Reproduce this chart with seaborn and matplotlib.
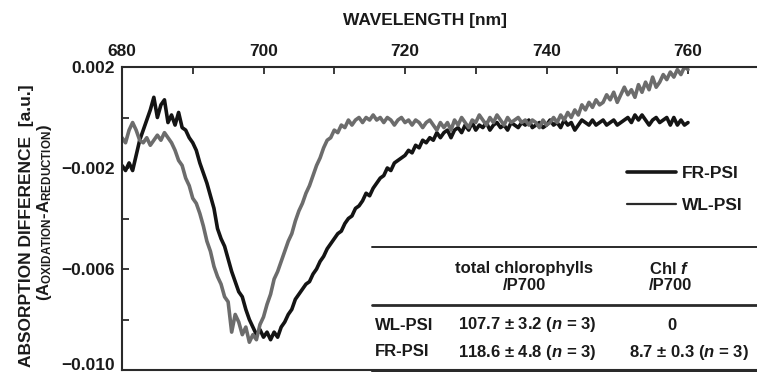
import numpy as np
import pandas as pd
import matplotlib
matplotlib.use("Agg")
import matplotlib.pyplot as plt
from matplotlib.lines import Line2D
from matplotlib.transforms import ScaledTranslation
import seaborn as sns

# ---------------- data (values in units of 1e-3) ----------------
wl_start, wl_stop, wl_step = 680.0, 760.0, 0.5

fr_psi = [
    -1.9, -2.1, -1.8, -2.1, -1.5, -0.9, -0.5, -0.1, 0.3, 0.8,
    0.0, 0.5, 0.7, -0.2, 0.1, -0.3, 0.2, -0.4, -0.5, -0.8,
    -1.0, -1.3, -1.8, -2.2, -2.6, -3.1, -3.6, -4.4, -4.8, -5.1,
    -5.6, -6.1, -6.5, -6.9, -7.1, -7.6, -8.0, -8.3, -8.6, -8.4,
    -8.7, -8.5, -8.8, -8.5, -8.7, -8.3, -8.1, -7.8, -7.6, -7.2,
    -7.0, -6.8, -6.6, -6.5, -6.2, -6.0, -5.7, -5.5, -5.2, -5.0,
    -4.8, -4.6, -4.5, -4.2, -4.0, -3.9, -3.6, -3.5, -3.3, -3.0,
    -3.1, -2.8, -2.6, -2.4, -2.3, -2.0, -2.1, -1.8, -1.7, -1.6,
    -1.5, -1.3, -1.4, -1.1, -1.2, -0.9, -1.0, -0.8, -0.9, -0.6,
    -0.8, -0.6, -0.5, -0.8, -0.5, -0.4, -0.6, -0.3, -0.5, -0.2,
    -0.5, -0.3, -0.4, -0.2, -0.5, -0.3, -0.2, -0.4, -0.3, -0.5,
    -0.2, -0.3, -0.4, -0.2, -0.3, -0.1, -0.4, -0.3, -0.2, -0.4,
    -0.3, -0.1, -0.3, -0.2, -0.4, -0.1, -0.3, -0.2, -0.5, -0.3,
    -0.1, -0.2, -0.3, -0.1, -0.3, -0.2, -0.1, -0.3, -0.2, -0.1,
    -0.3, -0.2, -0.1, 0.0, -0.2, 0.1, -0.1, 0.1, -0.1, -0.3,
    -0.1, 0.0, -0.2, -0.1, 0.0, -0.3, 0.0, -0.3, -0.1, -0.3,
    -0.2,
]

wl_psi = [
    -0.8, -1.0, -0.5, -0.2, -0.5, -0.9, -1.0, -0.8, -1.1, -0.9,
    -0.7, -0.9, -0.6, -0.8, -1.0, -1.3, -1.7, -1.9, -2.4, -2.7,
    -3.2, -3.4, -3.8, -4.3, -4.9, -5.3, -5.9, -6.3, -6.6, -7.1,
    -7.3, -8.5, -7.8, -8.1, -8.6, -8.3, -8.9, -8.6, -8.8, -8.2,
    -7.9, -7.4, -7.0, -6.4, -6.1, -5.7, -5.3, -4.9, -4.6, -4.1,
    -3.7, -3.4, -3.0, -2.7, -2.3, -1.9, -1.6, -1.2, -0.9, -0.8,
    -0.5, -0.6, -0.3, -0.4, -0.1, -0.3, -0.1, 0.0, -0.2, 0.0,
    -0.1, 0.1, -0.1, 0.0, -0.2, 0.0, -0.1, -0.3, -0.1, 0.0,
    -0.2, -0.1, -0.3, -0.1, -0.2, -0.4, -0.2, -0.1, -0.3, -0.5,
    -0.2, -0.4, -0.2, -0.5, -0.1, -0.3, 0.0, -0.2, -0.4, -0.1,
    -0.2, 0.1, -0.1, -0.3, 0.0, -0.2, 0.1, -0.1, -0.3, 0.0,
    -0.2, -0.1, 0.0, -0.2, -0.1, -0.3, -0.1, -0.2, -0.4, -0.1,
    -0.3, -0.2, 0.0, -0.2, 0.1, -0.1, 0.2, 0.0, 0.3, 0.1,
    0.5, 0.3, 0.6, 0.4, 0.7, 0.5, 0.6, 0.9, 0.7, 1.0,
    0.6, 0.9, 1.2, 0.9, 1.1, 0.8, 1.3, 1.0, 1.4, 1.1,
    1.6, 1.2, 1.4, 1.7, 1.5, 1.8, 1.6, 1.9, 1.7, 2.0,
    1.9,
]

series_names = ["FR-PSI", "WL-PSI"]
x_major = [680, 700, 720, 740, 760]
x_minor = [690, 710, 730, 750]
y_major = [0.002, -0.002, -0.006, -0.010]
y_major_labels = ["0.002", "\u22120.002", "\u22120.006", "\u22120.010"]
y_minor = [0.0, -0.004, -0.008]

table_header = ["total chlorophylls\n/P700", "Chl $\\mathit{f}$\n/P700"]
table_rows = ["WL-PSI", "FR-PSI"]
table_total = ["107.7 \u00b1 3.2 ($\\mathit{n}$ = $\\mathit{3}$)",
               "118.6 \u00b1 4.8 ($\\mathit{n}$ = $\\mathit{3}$)"]
table_chlf = ["0", "8.7 \u00b1 0.3 ($\\mathit{n}$ = $\\mathit{3}$)"]

wavelength = np.arange(wl_start, wl_stop + wl_step / 2, wl_step)
df = pd.DataFrame({
    "wavelength": np.concatenate([wavelength, wavelength]),
    "absorbance": np.concatenate([np.array(fr_psi), np.array(wl_psi)]) * 1e-3,
    "sample": [series_names[0]] * len(fr_psi) + [series_names[1]] * len(wl_psi),
})

# ---------------- style ----------------
sns.set_style("ticks")
plt.rcParams["font.family"] = ["Liberation Sans", "DejaVu Sans"]
plt.rcParams["font.weight"] = "bold"
plt.rcParams["mathtext.fontset"] = "custom"
plt.rcParams["mathtext.rm"] = "Liberation Sans:bold"
plt.rcParams["mathtext.it"] = "Liberation Sans:italic:bold"
plt.rcParams["mathtext.bf"] = "Liberation Sans:bold"
plt.rcParams["axes.unicode_minus"] = True

W, H = 757, 372
fig = plt.figure(figsize=(W / 100, H / 100), dpi=100)
ax = fig.add_axes([122 / W, 2 / H, (W - 122) / W, (370 - 67) / H])

colors = {"FR-PSI": "#141414", "WL-PSI": "#6c6c6c"}
for name in series_names:
    sub = df[df["sample"] == name]
    sns.lineplot(data=sub, x="wavelength", y="absorbance", ax=ax,
                 color=colors[name], linewidth=2.6, estimator=None,
                 sort=False, legend=False)

ax.set_xlim(680, 680 + (W - 122) / 7.075)
ax.set_ylim(-0.010, 0.002)
ax.set_xlabel("")
ax.set_ylabel("")

spine_c = "#2a2a2a"
for s in ["top", "left", "bottom"]:
    ax.spines[s].set_visible(True)
    ax.spines[s].set_linewidth(1.5)
    ax.spines[s].set_color(spine_c)
ax.spines["right"].set_visible(False)

ax.xaxis.tick_top()
ax.set_xticks(x_major)
ax.set_xticks(x_minor, minor=True)
ax.set_xticklabels([str(v) for v in x_major])
ax.set_yticks(y_major)
ax.set_yticks(y_minor, minor=True)
ax.set_yticklabels(y_major_labels)
ax.tick_params(axis="both", which="both", direction="in", length=5,
               width=1.3, color=spine_c, labelsize=12.5)
ax.tick_params(axis="x", which="both", top=True, bottom=False,
               labeltop=True, labelbottom=False, pad=6)
ax.tick_params(axis="y", which="both", left=True, right=False, pad=5)
for lab in ax.get_xticklabels() + ax.get_yticklabels():
    lab.set_fontweight("bold")
    lab.set_color("#1a1a1a")
last = ax.get_yticklabels()[-1]
last.set_transform(last.get_transform()
                   + ScaledTranslation(0, 6.5 / 100, fig.dpi_scale_trans))

# title / axis labels
fig.text(425 / W, 1 - 20 / H, "WAVELENGTH [nm]", ha="center", va="center",
         fontsize=12.5, fontweight="bold", color="#1a1a1a")
fig.text(27 / W, 1 - 226 / H, "ABSORPTION DIFFERENCE  [a.u.]", rotation=90,
         ha="center", va="center", fontsize=12.5, fontweight="bold", color="#1a1a1a")
fig.text(45 / W, 1 - 213 / H,
         r"(A$_{\mathrm{OXIDATION}}$-A$_{\mathrm{REDUCTION}}$)", rotation=90,
         ha="center", va="center", fontsize=12, color="#1a1a1a")

# legend
handles = [Line2D([], [], color="#161616", linewidth=2.6),
           Line2D([], [], color="#2a2a2a", linewidth=1.6)]
leg = fig.legend(handles, series_names, loc="upper left",
                 bbox_to_anchor=(627 / W, 1 - 166 / H), frameon=False,
                 fontsize=12.5, handlelength=2.8, handletextpad=0.35,
                 labelspacing=0.95, borderpad=0, borderaxespad=0)
for t in leg.get_texts():
    t.set_fontweight("bold")
    t.set_color("#1a1a1a")

# table
line_c = "#2a2a2a"
fig.add_artist(Line2D([372 / W, 1.0], [1 - 247 / H] * 2, color=line_c,
                      linewidth=1.4, transform=fig.transFigure))
fig.add_artist(Line2D([372 / W, 1.0], [1 - 305 / H] * 2, color=line_c,
                      linewidth=2.0, transform=fig.transFigure))
fig.add_artist(Line2D([372 / W, 1.0], [1 - 371 / H] * 2, color=line_c,
                      linewidth=2.0, transform=fig.transFigure))

tkw = dict(fontsize=12, fontweight="bold", color="#1a1a1a", va="center")
fig.text(524 / W, 1 - 277 / H, table_header[0], ha="center",
         linespacing=1.15, **tkw)
fig.text(649 / W, 1 - 277 / H, table_header[1], ha="left",
         linespacing=1.15, **tkw)
row_y = [325, 352]
for i, r in enumerate(table_rows):
    fig.text(375 / W, 1 - row_y[i] / H, r, ha="left", **tkw)
    fig.text(458 / W, 1 - row_y[i] / H, table_total[i], ha="left", **tkw)
fig.text(672 / W, 1 - row_y[0] / H, table_chlf[0], ha="center", **tkw)
fig.text(629 / W, 1 - row_y[1] / H, table_chlf[1], ha="left", **tkw)

fig.savefig("out.png", dpi=100)
